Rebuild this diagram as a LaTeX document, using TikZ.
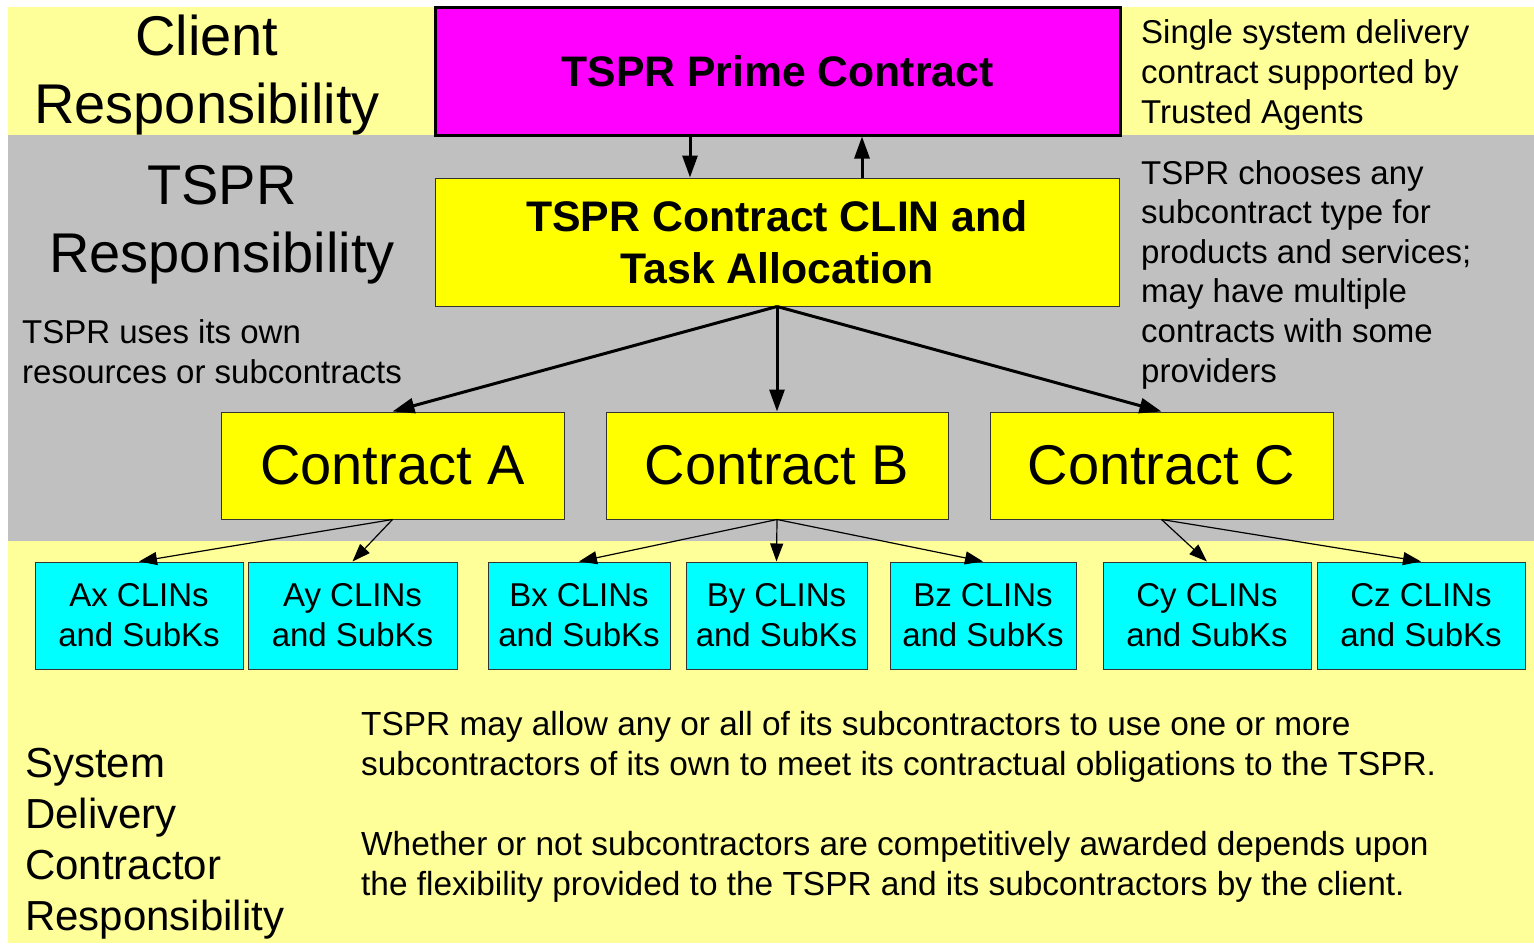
\documentclass[tikz,border=0pt]{standalone}
\usepackage{fontspec}
\setmainfont{Liberation Sans}
\usetikzlibrary{arrows.meta}

\definecolor{paleyellow}{HTML}{FFFF99}
\definecolor{bandgray}{HTML}{C0C0C0}
\definecolor{boxyellow}{HTML}{FFFF00}
\definecolor{boxmagenta}{HTML}{FF00FF}
\definecolor{boxcyan}{HTML}{00FFFF}

\tikzset{
  box/.style={draw=black!80, line width=1pt, inner sep=0pt, align=center},
  primebox/.style={box, draw=black, line width=3pt, fill=boxmagenta},
  clinbox/.style={box, fill=boxyellow},
  contractbox/.style={box, fill=boxyellow, minimum width=343pt, minimum height=107pt,
    font=\fontsize{56}{67}\selectfont},
  subbox/.style={box, fill=boxcyan, minimum height=107pt,
    font=\fontsize{33}{40}\selectfont},
  bigtitle/.style={inner sep=0pt, align=center, font=\fontsize{56}{68}\selectfont},
  note/.style={inner sep=0pt, align=left, anchor=base west, font=\fontsize{33}{39.6}\selectfont},
  mainarrow/.style={line width=3pt, -{Triangle[length=22pt,width=15pt]}},
  subarrow/.style={line width=1.2pt, -{Triangle[length=18pt,width=13pt]}}
}

\begin{document}
\begin{tikzpicture}[x=1pt,y=-1pt]
\useasboundingbox (0,0) rectangle (1534,943);
\fill[white] (0,0) rectangle (1534,943);

% responsibility bands
\fill[paleyellow] (8,7) rectangle (1534,135);
\fill[bandgray] (8,135) rectangle (1534,541);
\fill[paleyellow] (8,541) rectangle (1534,943);

% contract hierarchy
\node[primebox, minimum width=685pt, minimum height=128pt,
      font=\fontsize{42.7}{52}\bfseries\selectfont] (prime) at (777.5,71) {TSPR Prime Contract};
\node[clinbox, minimum width=684pt, minimum height=128pt,
      font=\fontsize{42.8}{52}\bfseries\selectfont] (clin) at (777,242) {TSPR Contract CLIN and\\Task Allocation};

\node[contractbox] (ca) at (392.5,465.5) {Contract A};
\node[contractbox, minimum width=342pt] (cb) at (777,465.5) {Contract B};
\node[contractbox] (cc) at (1161.5,465.5) {Contract C};

\node[subbox, minimum width=208pt] (ax) at (139,615.5) {Ax CLINs\\and SubKs};
\node[subbox, minimum width=209pt] (ay) at (352.5,615.5) {Ay CLINs\\and SubKs};
\node[subbox, minimum width=182pt] (bx) at (579,615.5) {Bx CLINs\\and SubKs};
\node[subbox, minimum width=181pt] (by) at (776.5,615.5) {By CLINs\\and SubKs};
\node[subbox, minimum width=186pt] (bz) at (983,615.5) {Bz CLINs\\and SubKs};
\node[subbox, minimum width=208pt] (cy) at (1207,615.5) {Cy CLINs\\and SubKs};
\node[subbox, minimum width=208pt] (cz) at (1421,615.5) {Cz CLINs\\and SubKs};

% connectors
\coordinate (down) at (690,0);
\coordinate (up) at (862,0);
\draw[mainarrow] (prime.south -| down) -- (clin.north -| down);
\draw[mainarrow] (clin.north -| up) -- (prime.south -| up);
\draw[mainarrow] (clin.south) -- (ca.north);
\draw[mainarrow] (clin.south) -- (cb.north);
\draw[mainarrow] (clin.south) -- (cc.north);
\draw[subarrow] (ca.south) -- (ax.north);
\draw[subarrow] (ca.south) -- (ay.north);
\draw[subarrow] (cb.south) -- (bx.north);
\draw[subarrow] (cb.south) -- (by.north);
\draw[subarrow] (cb.south) -- (bz.north);
\draw[subarrow] (cc.south) -- (cy.north);
\draw[subarrow] (cc.south) -- (cz.north);

% band labels (anchored on the baseline of their last line)
\node[bigtitle, anchor=base] (clientlbl) at (207,123) {Client\\Responsibility};
\node[bigtitle, anchor=base] (tsprlbl) at (222,272) {TSPR\\Responsibility};
\node[note] (ownres) at (22,383) {TSPR uses its own\\resources or subcontracts};
\node[note] (single) at (1141,123) {Single system delivery\\contract supported by\\Trusted Agents};
\node[note] (chooses) at (1141,382) {TSPR chooses any\\subcontract type for\\products and services;\\may have multiple\\contracts with some\\providers};
\node[note, font=\fontsize{33.4}{40}\selectfont] (allow) at (361,895) {TSPR may allow any or all of its subcontractors to use one or more\\subcontractors of its own to meet its contractual obligations to the TSPR.\\[40pt]Whether or not subcontractors are competitively awarded depends upon\\the flexibility provided to the TSPR and its subcontractors by the client.};
\node[note, font=\fontsize{42}{51}\selectfont] (sdlbl) at (25,930) {System\\Delivery\\Contractor\\Responsibility};
\end{tikzpicture}
\end{document}
